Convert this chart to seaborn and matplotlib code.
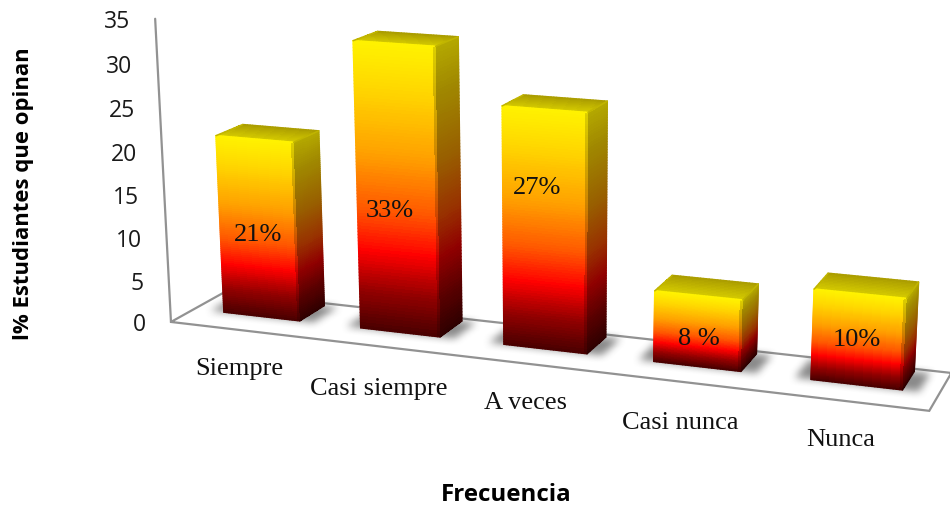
"""Barras en falsa perspectiva 3D con degradado amarillo-rojo: opinión de estudiantes por frecuencia."""
import matplotlib
matplotlib.use("Agg")
import matplotlib.pyplot as plt
import numpy as np
import pandas as pd
import seaborn as sns
from matplotlib.collections import LineCollection
from matplotlib.colors import LinearSegmentedColormap, to_rgb
from matplotlib.path import Path
from matplotlib.transforms import Affine2D, Transform

# ── datos ──────────────────────────────────────────────────────────────────────
categorias = ["Siempre", "Casi siempre", "A veces", "Casi nunca", "Nunca"]
porcentajes = [21, 33, 27, 8, 10]
etiquetas_valor = ["21%", "33%", "27%", "8 %", "10%"]
ticks_y = [0, 5, 10, 15, 20, 25, 30, 35]

# ── estilo y geometría ─────────────────────────────────────────────────────────
W, H = 950, 506
ANCHO_BARRA = 0.56
D_FRENTE, D_FONDO = 0.43, 0.93
Y_MAX = 35

# cámara ajustada a la vista: (categoría, profundidad, valor) -> pixel
CAMARA = np.array([
    [132.309237, 64.868653, -0.632707, 239.059067],
    [8.641485, -16.338902, -8.78311, 330.929978],
    [-0.022673, 0.047288, -0.001134, 1.0],
])

POS_CATEGORIA = [(239, 369), (379, 389), (525, 403), (680, 423), (841, 440)]
POS_VALOR = [(258, 235), (390, 211), (537, 188), (699, 339), (857, 340)]

COLOR_EJE = "#929292"
FRENTE = LinearSegmentedColormap.from_list("frente", [
    (0.0, "#4a0000"), (0.14, "#950000"), (0.28, "#ff0000"), (0.42, "#ff5500"),
    (0.62, "#ffa000"), (0.85, "#ffd800"), (1.0, "#fff200"),
])
LADO = LinearSegmentedColormap.from_list("lado", [
    (0.0, "#2e0000"), (0.14, "#5a0000"), (0.28, "#900000"), (0.42, "#983000"),
    (0.62, "#986000"), (0.85, "#a08800"), (1.0, "#b4a800"),
])
TAPA_ATRAS = np.array(to_rgb("#ac9e00"))
TAPA_DELANTE = np.array(to_rgb("#d6cc00"))


def proyectar(u, d, v):
    u, d, v = np.broadcast_arrays(u, d, v)
    q = np.stack([u, d, v, np.ones_like(u, dtype=float)], axis=-1) @ CAMARA.T
    return q[..., 0] / q[..., 2], q[..., 1] / q[..., 2]


class CaraFrontal(Transform):
    """Lleva (x, valor) del eje al plano frontal de las barras, en pixeles."""
    input_dims = output_dims = 2

    def transform_non_affine(self, values):
        values = np.asarray(values, dtype=float)
        return np.column_stack(proyectar(values[:, 0], D_FRENTE, values[:, 1]))


a_pixel = Affine2D().scale(1, -1).translate(0, H)


def malla(ax, X, Y, C):
    ax.pcolormesh(X, Y, C, shading="flat", transform=a_pixel, zorder=4,
                  edgecolors="none", linewidth=0, antialiased=False)


def borde(ax, u, d, v, colores):
    # arista suavizada: tapa el dentado de la malla y redondea las esquinas
    xs, ys = proyectar(u, d, v)
    puntos = np.column_stack([xs, ys])
    segmentos = np.stack([puntos[:-1], puntos[1:]], axis=1)
    ax.add_collection(LineCollection(segmentos, colors=colores, linewidths=1.1,
                                     capstyle="round", transform=a_pixel, zorder=5),
                      autolim=False)


def dibujar_barra(ax, x0, x1, alto):
    n_v, n_u = 90, 30
    # cara frontal
    fu = np.linspace(0, 1, n_u + 1)
    fv = np.linspace(0, 1, n_v + 1)
    U, V = np.meshgrid(x0 + fu * (x1 - x0), fv * alto)
    X, Y = proyectar(U, D_FRENTE, V)
    cv = (fv[:-1] + fv[1:]) / 2
    cu = (fu[:-1] + fu[1:]) / 2
    base = FRENTE(cv)[:, :3][:, None, :].repeat(n_u, axis=1)
    lado = LADO(cv)[:, :3][:, None, :].repeat(n_u, axis=1)
    mezcla = np.clip((cu - 0.95) / 0.05, 0, 1)[None, :, None] * 0.7
    malla(ax, X, Y, base * (1 - mezcla) + lado * mezcla)

    # cara lateral
    fd = np.linspace(0, 1, 7)
    D, V = np.meshgrid(D_FRENTE + fd * (D_FONDO - D_FRENTE), fv * alto)
    X, Y = proyectar(x1, D, V)
    malla(ax, X, Y, LADO(cv)[:, :3][:, None, :].repeat(6, axis=1))

    # tapa
    ft = np.linspace(0, 1, 13)
    U, D = np.meshgrid(x0 + fu * (x1 - x0), D_FRENTE + ft * (D_FONDO - D_FRENTE))
    X, Y = proyectar(U, D, alto)
    t = ((ft[:-1] + ft[1:]) / 2)[:, None, None]
    C = (TAPA_DELANTE * (1 - t) + TAPA_ATRAS * t).repeat(n_u, axis=1)
    malla(ax, X, Y, C)

    # aristas
    vs = fv * alto
    borde(ax, x0, D_FRENTE, vs, FRENTE(cv))
    borde(ax, x1, D_FONDO, vs, LADO(cv))
    us = x0 + fu * (x1 - x0)
    borde(ax, us, D_FRENTE, 0.0, [FRENTE(0.0)])
    ds = D_FRENTE + fd * (D_FONDO - D_FRENTE)
    borde(ax, x1, ds, 0.0, [LADO(0.0)])
    borde(ax, us, D_FRENTE, alto, [FRENTE(1.0)])
    borde(ax, us, D_FONDO, alto, [tuple(TAPA_ATRAS)])
    borde(ax, x0, ds, alto, [tuple(TAPA_ATRAS * 0.5 + TAPA_DELANTE * 0.5)])
    borde(ax, x1, ds, alto, [tuple(TAPA_ATRAS * 0.5 + TAPA_DELANTE * 0.5)])


def dibujar_sombra(ax, x0, x1):
    # huella de la barra un poco ampliada y difuminada
    margen = 0.1
    esquinas = np.array([
        proyectar(x0 - margen, D_FRENTE, 0), proyectar(x1 + margen, D_FRENTE, 0),
        proyectar(x1 + margen, D_FONDO, 0), proyectar(x0 - margen, D_FONDO, 0),
    ])
    izq, arr = np.floor(esquinas.min(axis=0)).astype(int) - 16
    der, aba = np.ceil(esquinas.max(axis=0)).astype(int) + 16
    px, py = np.meshgrid(np.arange(izq, der) + 0.5, np.arange(arr, aba) + 0.5)
    dentro = Path(esquinas).contains_points(np.column_stack([px.ravel(), py.ravel()]))
    alfa = dentro.reshape(px.shape).astype(float)
    nucleo = np.ones(9) / 9
    for _ in range(2):
        alfa = np.apply_along_axis(np.convolve, 0, alfa, nucleo, mode="same")
        alfa = np.apply_along_axis(np.convolve, 1, alfa, nucleo, mode="same")
    rgba = np.zeros(alfa.shape + (4,))
    rgba[..., :3] = 0.3
    rgba[..., 3] = alfa * 0.65
    ax.imshow(rgba, extent=(izq, der, aba, arr), origin="upper", aspect="auto",
              interpolation="bilinear", transform=a_pixel, zorder=2)


def main():
    sns.set_theme(style="white")
    fig = plt.figure(figsize=(W / 100, H / 100), dpi=100, facecolor="white")
    ax = fig.add_axes([0, 0, 1, 1])

    df = pd.DataFrame({"frecuencia": categorias, "porcentaje": porcentajes})
    sns.barplot(data=df, x="frecuencia", y="porcentaje", width=ANCHO_BARRA,
                color="#ff8000", saturation=1, ax=ax)
    ax.set_xlim(-0.5, len(categorias) - 0.5)
    ax.set_ylim(0, Y_MAX)
    ax.set_axis_off()

    # capa numérica encima para las caras en perspectiva
    capa = fig.add_axes([0, 0, 1, 1], facecolor="none")
    capa.set_xlim(0, W)
    capa.set_ylim(H, 0)
    capa.autoscale(False)
    capa.set_axis_off()

    # suelo y arista del eje vertical
    u0, u1 = ax.get_xlim()
    contorno = [(u0, 0, Y_MAX), (u0, 0, 0), (u1, 0, 0), (u1, 1, 0), (u0, 1, 0), (u0, 0, 0)]
    xs, ys = proyectar(*np.array(contorno).T)
    capa.plot(xs, ys, color=COLOR_EJE, lw=1.6, transform=a_pixel, zorder=1,
              solid_joinstyle="miter")

    for barra in ax.patches:
        x0, x1 = barra.get_x(), barra.get_x() + barra.get_width()
        barra.set_transform(CaraFrontal() + a_pixel)
        barra.set_edgecolor("none")
        dibujar_sombra(capa, x0, x1)
        dibujar_barra(capa, x0, x1, barra.get_height())

    capa.set_xlim(0, W)
    capa.set_ylim(H, 0)

    # textos
    serif = "Liberation Serif"
    sans = "Open Sans"
    for t in ticks_y:
        x, y = proyectar(u0, 0, t)
        capa.text(x - 25, y + 2.5, str(t), family=sans, fontsize=16.5, color="#1a1a1a",
                  ha="right", va="center", transform=a_pixel, zorder=6)
    for nombre, (x, y) in zip(categorias, POS_CATEGORIA):
        capa.text(x, y, nombre, family=serif, fontsize=19, color="#111111",
                  ha="center", va="center", transform=a_pixel, zorder=6)
    for texto, (x, y) in zip(etiquetas_valor, POS_VALOR):
        capa.text(x, y, texto, family=serif, fontsize=19, color="#111111",
                  ha="center", va="center", transform=a_pixel, zorder=6)
    capa.text(506, 495, "Frecuencia", family=sans, fontsize=17.4, fontweight="bold",
              color="black", ha="center", va="center", transform=a_pixel, zorder=6)
    capa.text(24, 194, "l% Estudiantes que opinan", family=sans, fontsize=15.9, fontweight="bold",
              color="black", ha="center", va="center", rotation=90, transform=a_pixel, zorder=6)

    fig.savefig("out.png", dpi=100, facecolor="white")
    plt.close(fig)


if __name__ == "__main__":
    main()
